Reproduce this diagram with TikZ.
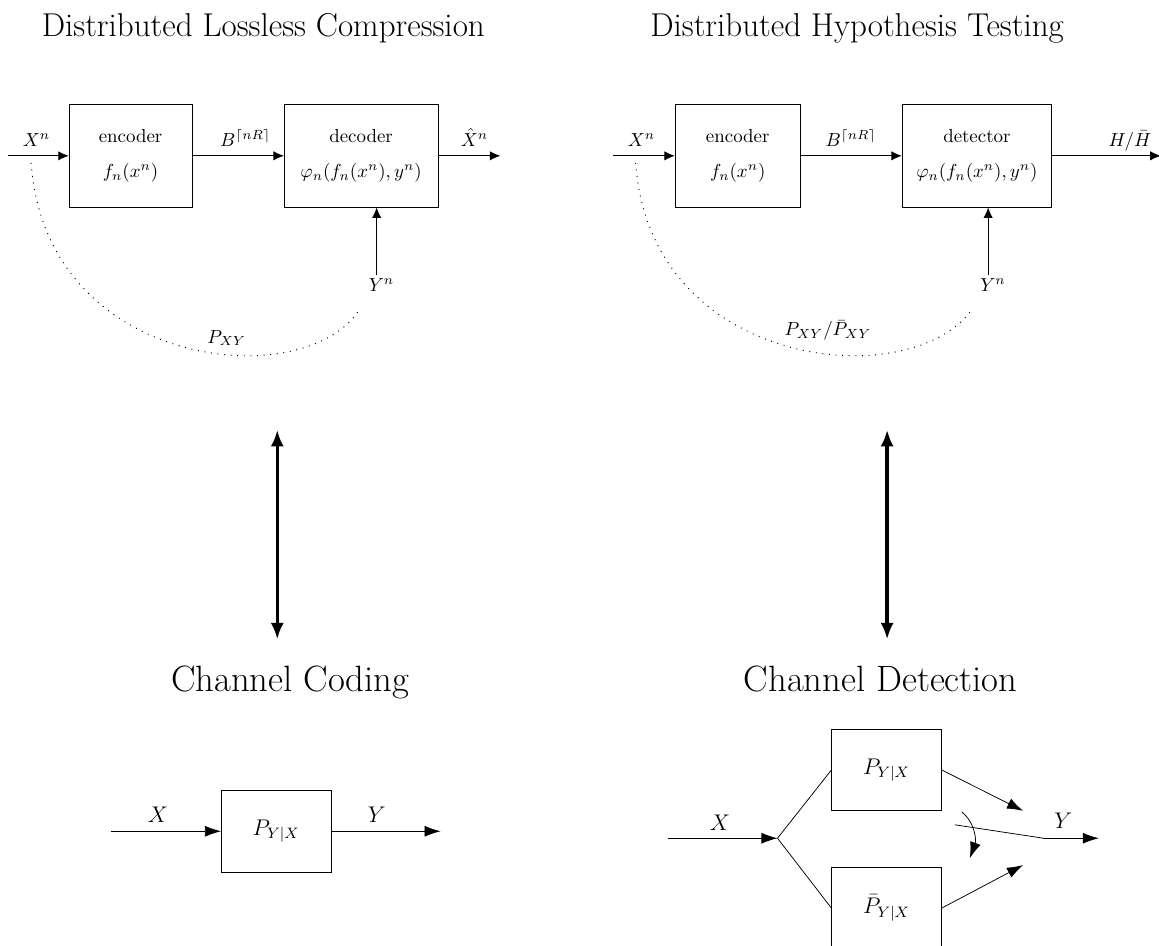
\documentclass[tikz,border=0pt]{standalone}
\usepackage{tikz}
\usetikzlibrary{arrows.meta}

\begin{document}
\begin{tikzpicture}[
        box/.style={
            draw,
            rectangle,
            minimum height=1.91cm,
            align=center
        },
        chbox/.style={
            draw,
            rectangle,
            minimum width=2.04cm,
            minimum height=1.52cm,
            font=\fontsize{11.5}{14}\selectfont
        },
        arr/.style={-{Latex[length=5.5pt,width=4.9pt]}},
        bigarr/.style={-{Latex[length=8.5pt,width=5.8pt]}},
        twoway/.style={{Latex[length=8.8pt,width=7pt]}-{Latex[length=8.8pt,width=7pt]}, line width=1.8pt},
        joint/.style={line width=0.5pt, dash pattern=on 0.5pt off 3pt},
        heading/.style={anchor=base, font=\fontsize{17.5}{21}\selectfont},
        bigheading/.style={anchor=base, font=\fontsize{19.4}{23}\selectfont},
        lbl/.style={anchor=base},
        chlbl/.style={anchor=base, font=\fontsize{11.5}{14}\selectfont}
    ]
        \useasboundingbox (0,0) rectangle (21.57,-17.605);

        % Titles
        \node[heading] (t1) at (4.90,-0.67) {Distributed Lossless Compression};
        \node[heading] (t2) at (15.95,-0.67) {Distributed Hypothesis Testing};
        \node[bigheading] (t3) at (5.40,-12.87) {Channel Coding};
        \node[bigheading] (t4) at (16.39,-12.87) {Channel Detection};

        % Lossless compression
        \coordinate (in1) at (0.15,-2.90);
        \node[box, minimum width=2.29cm] (enc1) at (2.43,-2.90) {encoder\\[6.7pt]$f_n(x^n)$};
        \node[box, minimum width=2.86cm] (dec1) at (6.72,-2.90) {decoder\\[6.7pt]$\varphi_n(f_n(x^n),y^n)$};
        \coordinate (out1) at (9.31,-2.90);
        \coordinate (ys1) at (7.01,-5.12);
        \draw[arr] (in1) -- (enc1);
        \draw[arr] (enc1) -- (dec1);
        \draw[arr] (dec1) -- (out1);
        \draw[arr] (ys1) -- (ys1 |- dec1.south);
        \node[lbl] (xn1) at (0.68,-2.72) {$X^n$};
        \node[lbl] (b1) at (4.57,-2.72) {$B^{\lceil nR\rceil}$};
        \node[lbl] (xh1) at (8.83,-2.72) {$\hat{X}^n$};
        \node[lbl] (yn1) at (7.10,-5.43) {$Y^n$};
        \draw[joint] (0.58,-3.03) .. controls (0.84,-6.89) and (5.68,-7.35) .. (6.68,-5.77);
        \node (pxy1) at (4.22,-6.29) {$P_{XY}$};

        % Hypothesis testing
        \coordinate (in2) at (11.40,-2.90);
        \node[box, minimum width=2.33cm] (enc2) at (13.73,-2.90) {encoder\\[6.7pt]$f_n(x^n)$};
        \node[box, minimum width=2.78cm] (det2) at (18.18,-2.90) {detector\\[6.7pt]$\varphi_n(f_n(x^n),y^n)$};
        \coordinate (out2) at (21.60,-2.90);
        \coordinate (ys2) at (18.39,-5.12);
        \draw[arr] (in2) -- (enc2);
        \draw[arr] (enc2) -- (det2);
        \draw[arr] (det2) -- (out2);
        \draw[arr] (ys2) -- (ys2 |- det2.south);
        \node[lbl] (xn2) at (11.94,-2.72) {$X^n$};
        \node[lbl] (b2) at (15.84,-2.72) {$B^{\lceil nR\rceil}$};
        \node[lbl] (hh2) at (21.03,-2.72) {$H/\bar{H}$};
        \node[lbl] (yn2) at (18.48,-5.43) {$Y^n$};
        \draw[joint] (11.83,-3.03) .. controls (12.10,-6.89) and (16.94,-7.35) .. (18.08,-5.77);
        \node (pxy2) at (15.41,-6.15) {$P_{XY}/\bar{P}_{XY}$};

        % Duality arrows
        \coordinate (up1) at (5.16,-8.00);
        \coordinate (dn1) at (5.16,-11.90);
        \coordinate (up2) at (16.51,-8.00);
        \coordinate (dn2) at (16.51,-11.90);
        \draw[twoway] (up1) -- (dn1);
        \draw[twoway] (up2) -- (dn2);

        % Channel coding
        \coordinate (in3) at (2.06,-15.47);
        \node[chbox] (ch3) at (5.14,-15.47) {$P_{Y|X}$};
        \coordinate (out3) at (8.20,-15.47);
        \draw[bigarr] (in3) -- (ch3);
        \draw[bigarr] (ch3) -- (out3);
        \node[chlbl] (x3) at (2.94,-15.31) {$X$};
        \node[chlbl] (y3) at (7.01,-15.31) {$Y$};

        % Channel detection
        \coordinate (in4) at (12.43,-15.60);
        \coordinate (jn4) at (14.47,-15.60);
        \node[chbox] (pa4) at (16.50,-14.33) {$P_{Y|X}$};
        \node[chbox] (pb4) at (16.50,-16.90) {$\bar{P}_{Y|X}$};
        \coordinate (sa4) at (19.04,-15.09);
        \coordinate (sb4) at (19.04,-16.10);
        \coordinate (swl4) at (17.77,-15.35);
        \coordinate (swr4) at (19.42,-15.60);
        \coordinate (out4) at (20.45,-15.60);
        \draw[bigarr] (in4) -- (jn4);
        \draw (jn4) -- (pa4.west);
        \draw (jn4) -- (pb4.west);
        \draw[bigarr] (pa4.east) -- (sa4);
        \draw[bigarr] (pb4.east) -- (sb4);
        \draw (swl4) -- (swr4);
        \draw[bigarr] (swr4) -- (out4);
        \draw[bigarr] (17.90,-15.11) to[out=-40, in=70] (18.05,-15.97);
        \node[chlbl] (x4) at (13.40,-15.46) {$X$};
        \node[chlbl] (y4) at (19.79,-15.41) {$Y$};
    \end{tikzpicture}
\end{document}
